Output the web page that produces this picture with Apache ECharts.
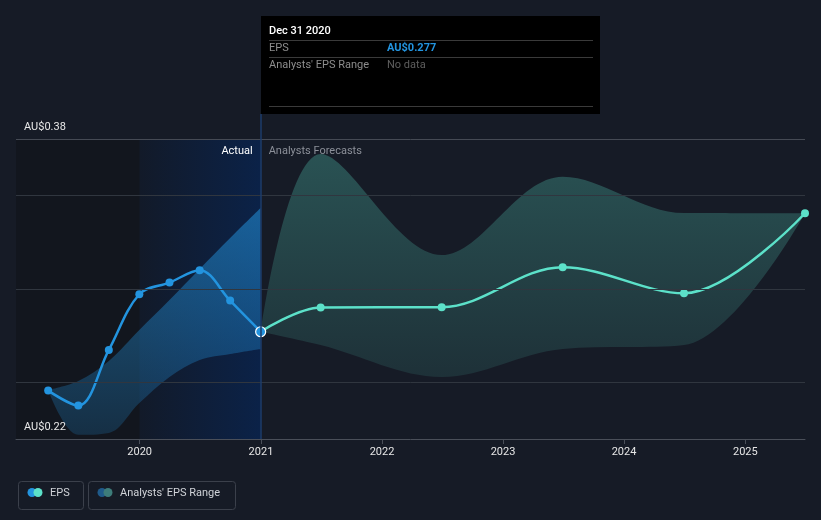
<!DOCTYPE html>
<html>
<head>
<meta charset="utf-8">
<script src="https://cdn.jsdelivr.net/npm/echarts@6/dist/echarts.min.js"></script>
<style>
html,body{margin:0;padding:0;background:#161b26;}
#chart{width:821px;height:520px;}
</style>
</head>
<body>
<div id="chart"></div>
<script>
// ---- data ----
const actualDates = ['2019-03-31','2019-06-30','2019-09-30','2019-12-31','2020-03-31','2020-06-30','2020-09-30','2020-12-31'];
const actualEPS   = [0.2458, 0.2378, 0.2675, 0.2972, 0.3034, 0.3100, 0.2938, 0.2772];
const actualLow   = [0.2461, 0.2222, 0.2232, 0.2392, 0.2531, 0.2621, 0.2653, 0.2680];
const actualHigh  = [0.2461, 0.2509, 0.2616, 0.2781, 0.2941, 0.3107, 0.3272, 0.3432];

const forecastDates = ['2020-12-31','2021-06-30','2022-06-30','2023-06-30','2024-06-30','2025-06-30'];
const forecastEPS   = [0.2772, 0.2901, 0.2903, 0.3116, 0.2977, 0.3404];
const forecastLow   = [0.2772, 0.2701, 0.2531, 0.2680, 0.2701, 0.3404];
const forecastHigh  = [0.2772, 0.3720, 0.3181, 0.3599, 0.3405, 0.3404];

const yLabelValues = [0.22, 0.38];
const yGridValues  = [0.25, 0.30, 0.35];
const xYears = ['2020','2021','2022','2023','2024','2025'];

const axisMin = '2018-12-24';
const axisMax = '2025-06-30';
const actualStart = '2020-01-01';
const reportDate = '2020-12-31';

// ---- build ----
const ts = s => +new Date(s + 'T00:00:00');
const pair = (d, v) => d.map((x, i) => [x, v[i]]);
const diff = (d, lo, hi) => d.map((x, i) => [x, +(hi[i] - lo[i]).toFixed(5)]);
const yearTs = xYears.map(y => ts(y + '-01-01'));

const actualData = pair(actualDates, actualEPS).map((p, i, arr) => i === arr.length - 1
  ? {value: p, symbolSize: 10, itemStyle: {color: '#2394df', borderColor: '#ffffff', borderWidth: 1.2}}
  : p);

const FONT = 'Roboto';

const option = {
  backgroundColor: '#161b26',
  animation: false,
  textStyle: {fontFamily: FONT},
  grid: {left: 16, right: 16, top: 114, bottom: 81, containLabel: false},
  xAxis: [{
    type: 'time',
    min: axisMin,
    max: axisMax,
    splitLine: {show: false},
    axisLine: {lineStyle: {color: '#4a4f59', width: 1}},
    axisTick: {show: false},
    axisLabel: {show: false}
  }, {
    type: 'value',
    position: 'bottom',
    min: ts(axisMin),
    max: ts(axisMax),
    splitLine: {show: false},
    axisLine: {show: false},
    axisTick: {show: true, length: 5, lineStyle: {color: '#4a4f59'}, customValues: yearTs},
    axisLabel: {color: '#e6e6e6', fontSize: 11, margin: 8, customValues: yearTs,
      formatter: v => String(new Date(v).getFullYear())}
  }],
  yAxis: {
    type: 'value',
    min: 0.22,
    max: 0.39333,
    axisLine: {show: false},
    axisTick: {show: false},
    axisLabel: {show: false},
    splitLine: {show: false}
  },
  series: [
    { // background zones, gridlines, labels
      type: 'line', data: [], z: 0, silent: true,
      markArea: {
        silent: true,
        data: [
          [{xAxis: axisMin, yAxis: yLabelValues[0], itemStyle: {color: '#12161e'}}, {xAxis: actualStart, yAxis: yLabelValues[1]}],
          [{xAxis: actualStart, yAxis: yLabelValues[0], name: 'Actual',
            itemStyle: {color: {type: 'linear', x: 0, y: 0, x2: 1, y2: 0,
              colorStops: [{offset: 0, color: '#121a29'}, {offset: 1, color: '#0b2248'}]}},
            label: {show: true, position: 'insideTopRight', color: '#ffffff', fontSize: 11, offset: [-3, 2]}},
           {xAxis: reportDate, yAxis: yLabelValues[1]}],
          [{xAxis: reportDate, yAxis: yLabelValues[0], name: 'Analysts Forecasts',
            itemStyle: {color: 'rgba(0,0,0,0)'},
            label: {show: true, position: 'insideTopLeft', color: '#8c9099', fontSize: 11, offset: [3, 2]}},
           {xAxis: axisMax, yAxis: yLabelValues[1]}]
        ]
      },
      markLine: {
        silent: true, symbol: 'none',
        data: [
          ...yGridValues.map(v => ({yAxis: v, lineStyle: {color: '#30363f', width: 1, type: 'solid'}, label: {show: false}})),
          {yAxis: yLabelValues[1], lineStyle: {color: '#454a54', width: 1, type: 'solid'},
            label: {show: true, position: 'insideStartTop', formatter: 'AU$' + yLabelValues[1].toFixed(2), color: '#e8e8e8', fontSize: 11, distance: [8, 6]}},
          {yAxis: yLabelValues[0], lineStyle: {color: 'rgba(0,0,0,0)', width: 1},
            label: {show: true, position: 'insideStartTop', formatter: 'AU$' + yLabelValues[0].toFixed(2), color: '#e8e8e8', fontSize: 11, distance: [8, 6]}},
          {xAxis: reportDate, lineStyle: {color: '#1d3c6b', width: 1.5, type: 'solid'}, label: {show: false}}
        ]
      }
    },
    { // actual range base
      type: 'line', stack: 'ar', data: pair(actualDates, actualLow), smooth: 0.35,
      symbol: 'none', lineStyle: {opacity: 0}, silent: true, z: 1
    },
    { // actual range
      type: 'line', stack: 'ar', data: diff(actualDates, actualLow, actualHigh), smooth: 0.35,
      symbol: 'none', lineStyle: {opacity: 0}, silent: true, z: 1,
      areaStyle: {opacity: 1, color: {type: 'linear', x: 0, y: 0, x2: 0, y2: 1,
        colorStops: [{offset: 0, color: 'rgba(35,148,223,0.55)'}, {offset: 1, color: 'rgba(35,148,223,0.2)'}]}}
    },
    { // forecast range base
      type: 'line', stack: 'fr', data: pair(forecastDates, forecastLow), smooth: 0.35,
      symbol: 'none', lineStyle: {opacity: 0}, silent: true, z: 1
    },
    { // forecast range
      type: 'line', stack: 'fr', data: diff(forecastDates, forecastLow, forecastHigh), smooth: 0.35,
      symbol: 'none', lineStyle: {opacity: 0}, silent: true, z: 1,
      areaStyle: {opacity: 1, color: {type: 'linear', x: 0, y: 0, x2: 0, y2: 1,
        colorStops: [{offset: 0, color: 'rgba(92,225,201,0.28)'}, {offset: 1, color: 'rgba(92,225,201,0.11)'}]}}
    },
    { // forecast EPS
      name: 'EPS forecast', type: 'line', data: pair(forecastDates, forecastEPS), smooth: 0.35,
      symbol: 'circle', symbolSize: 8, showSymbol: true, z: 3,
      lineStyle: {color: '#5ce1c9', width: 2.5}, itemStyle: {color: '#5ce1c9'}
    },
    { // actual EPS
      name: 'EPS', type: 'line', data: actualData, smooth: 0.35,
      symbol: 'circle', symbolSize: 8, showSymbol: true, z: 4,
      lineStyle: {color: '#2394df', width: 2.5}, itemStyle: {color: '#2394df'}
    }
  ],
  graphic: [
    // tooltip box
    {type: 'rect', left: 261, top: 16, shape: {width: 339, height: 98}, style: {fill: '#000000'}, z: 100},
    {type: 'text', x: 269, y: 31, style: {text: 'Dec 31 2020', fill: '#ffffff', font: '500 11px Roboto', verticalAlign: 'middle'}, z: 101},
    {type: 'rect', left: 269, top: 40, shape: {width: 324, height: 1}, style: {fill: '#3a3a3a'}, z: 101},
    {type: 'text', x: 269, y: 48.5, style: {text: 'EPS', fill: '#8d8d8d', font: '11px Roboto', verticalAlign: 'middle'}, z: 101},
    {type: 'text', x: 387, y: 48.5, style: {text: 'AU$' + actualEPS[actualEPS.length - 1].toFixed(3), fill: '#2394df', font: 'bold 11px Roboto', verticalAlign: 'middle'}, z: 101},
    {type: 'rect', left: 269, top: 57, shape: {width: 324, height: 1}, style: {fill: '#3a3a3a'}, z: 101},
    {type: 'text', x: 269, y: 65.5, style: {text: "Analysts' EPS Range", fill: '#8d8d8d', font: '11px Roboto', verticalAlign: 'middle'}, z: 101},
    {type: 'text', x: 387, y: 65.5, style: {text: 'No data', fill: '#5e5e5e', font: '11px Roboto', verticalAlign: 'middle'}, z: 101},
    {type: 'rect', left: 269, top: 106, shape: {width: 324, height: 1}, style: {fill: '#3a3a3a'}, z: 101},
    // legend
    {type: 'rect', left: 16, top: 479, shape: {width: 65, height: 28, r: 3}, style: {fill: 'none', stroke: '#3b404b', lineWidth: 1}},
    {type: 'circle', shape: {cx: 32, cy: 492.5, r: 4.5}, style: {fill: '#2394df'}},
    {type: 'circle', shape: {cx: 38, cy: 492.5, r: 4.5}, style: {fill: '#5ce1c9'}},
    {type: 'text', x: 50, y: 493, style: {text: 'EPS', fill: '#d0d3d8', font: '11px Roboto', verticalAlign: 'middle'}},
    {type: 'rect', left: 86, top: 479, shape: {width: 147, height: 28, r: 3}, style: {fill: 'none', stroke: '#3b404b', lineWidth: 1}},
    {type: 'circle', shape: {cx: 102, cy: 492.5, r: 4.5}, style: {fill: '#1f5a8a'}},
    {type: 'circle', shape: {cx: 108, cy: 492.5, r: 4.5}, style: {fill: '#3d7c7a'}},
    {type: 'text', x: 120, y: 493, style: {text: "Analysts' EPS Range", fill: '#d0d3d8', font: '11px Roboto', verticalAlign: 'middle'}}
  ]
};

const chart = echarts.init(document.getElementById('chart'), null, {renderer: 'canvas'});
chart.setOption(option);
</script>
</body>
</html>
